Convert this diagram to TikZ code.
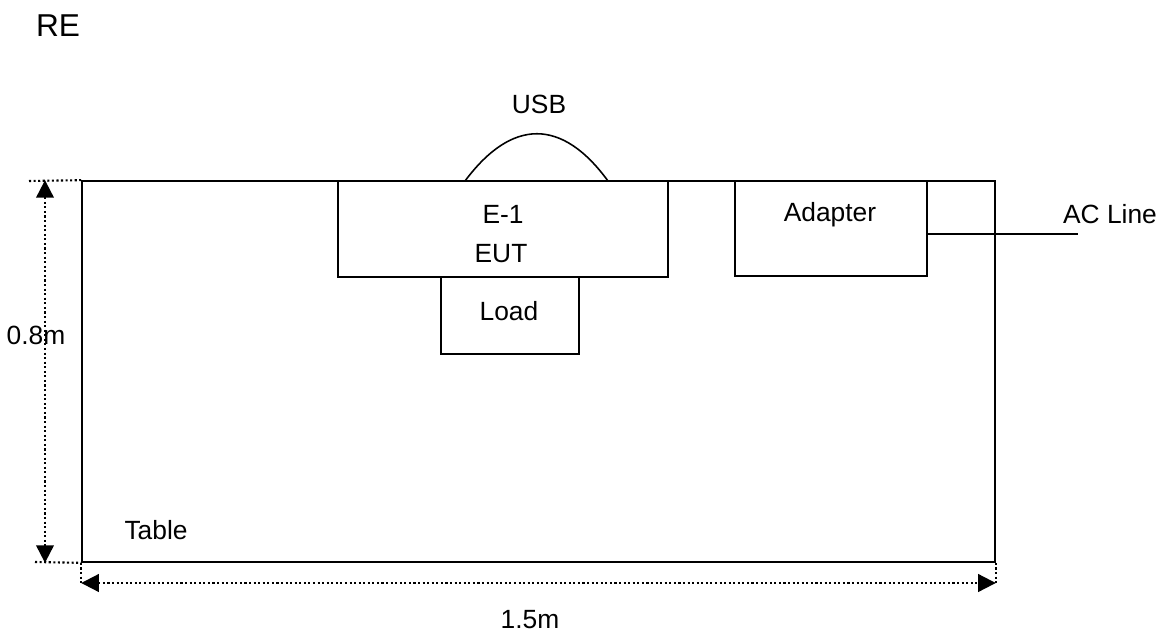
\documentclass[tikz,border=0pt]{standalone}
\usepackage{fontspec}
\setmainfont{Liberation Sans}
\usetikzlibrary{arrows.meta,calc}
\tikzset{
  box/.style={draw,line width=1pt,inner sep=0pt},
  dimline/.style={line width=1.2pt,dash pattern=on 1.2pt off 1.4pt},
  dimarrow/.style={dimline,{Triangle[width=10pt,length=10pt]}-{Triangle[width=10pt,length=10pt]}},
  lbl/.style={font=\fontsize{15}{18}\selectfont,inner sep=0pt}
}

\begin{document}
\begin{tikzpicture}[x=0.02cm,y=-0.02cm]
  \useasboundingbox (0,0) rectangle (1169,636);

  % table and units on it
  \node[box,minimum width=18.26cm,minimum height=7.62cm] (table) at (538.5,371.5) {};
  \node[box,minimum width=6.6cm,minimum height=1.92cm] (eut) at (503,229) {};
  \node[box,minimum width=2.76cm,minimum height=1.54cm] (load) at (510,315.5) {};
  \node[box,minimum width=3.84cm,minimum height=1.9cm] (adapter) at (831,228.5) {};

  \node[lbl] (e1) at (503,214) {E-1};
  \node[lbl] (euttxt) at (501,254) {EUT};
  \node[lbl] (loadtxt) at (509,311) {Load};
  \node[lbl] (adtxt) at (830,215) {Adapter};
  \node[lbl] (tabletxt) at (156,530) {Table};

  % cables
  \coordinate (usbl) at (465,181);
  \coordinate (usbr) at (608,181);
  \draw[line width=0.9pt] (usbl) .. controls (512,118) and (562,118) .. (usbr);
  \node[lbl] (usb) at (539,104) {USB};
  \coordinate (acend) at (1078,234);
  \draw[line width=0.7pt] (adapter.east |- acend) -- (acend);
  \node[lbl] (actxt) at (1110,214) {AC Line};

  \node[lbl,font=\fontsize{18}{21}\selectfont] (re) at (58,26) {RE};

  % dimensions
  \coordinate (vx) at (45,0);
  \coordinate (hy) at (0,583);
  \draw[dimline] (29,181) -- (table.north west);
  \draw[dimline] (35,562) -- (table.south west);
  \draw[dimline] (table.south west) -- (table.south west |- hy);
  \draw[dimline] (table.south east) -- (table.south east |- hy);
  \draw[dimarrow] (vx |- table.north west) -- (vx |- table.south west);
  \draw[dimarrow] (table.south west |- hy) -- (table.south east |- hy);
  \node[lbl] (h) at (36,335) {0.8m};
  \node[lbl] (w) at (530,620) {1.5m};
\end{tikzpicture}
\end{document}
